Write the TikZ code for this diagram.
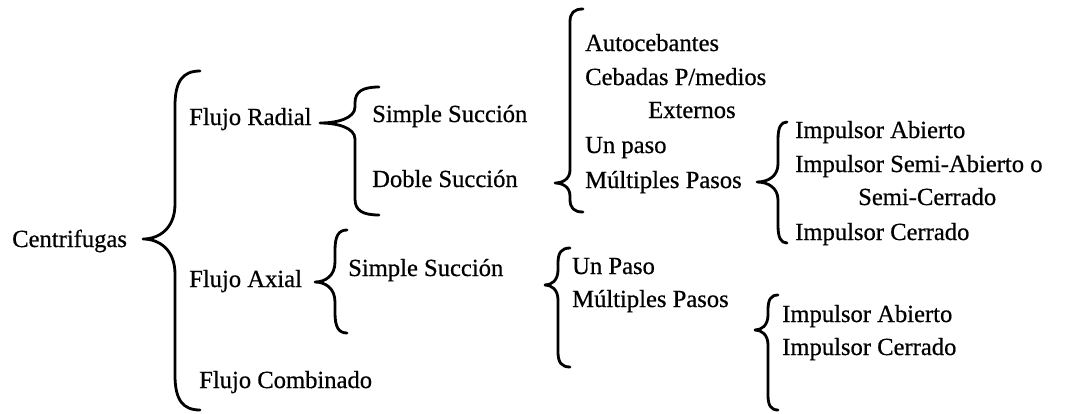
\documentclass[tikz,border=0pt]{standalone}
\usepackage{fontspec}
\setmainfont[FakeBold=0.6]{Liberation Serif}
\newcommand\cbr[7]{%
\draw[bracestroke] (#1,#4) .. controls ({#2+0.3*(#1-#2)},#4) and (#2,{#4+0.3*#7}) .. (#2,{#4+#7}) -- (#2,{#5-#7}) .. controls (#2,{#5-0.3*#7}) and ({#3+0.5*(#2-#3)},#5) .. (#3,#5) .. controls ({#3+0.5*(#2-#3)},#5) and (#2,{#5+0.3*#7}) .. (#2,{#5+#7}) -- (#2,{#6-#7}) .. controls (#2,{#6-0.3*#7}) and ({#2+0.3*(#1-#2)},#6) .. (#1,#6);}
\begin{document}
\begin{tikzpicture}[x=1pt,y=-1pt,
  lbl/.style={anchor=base west,inner sep=0pt,font=\fontsize{24.6}{28}\selectfont},
  bracestroke/.style={line width=2.8pt,line cap=round,line join=round}]
\useasboundingbox (0,0) rectangle (1069,413);
% labels
\node[lbl] (cen) at (12,247) {Centrifugas};
\node[lbl] (rad) at (189,125) {Flujo Radial};
\node[lbl] (ss1) at (372,122) {Simple Succión};
\node[lbl] (ds) at (372,187) {Doble Succión};
\node[lbl] (ax) at (189,287) {Flujo Axial};
\node[lbl] (ss2) at (348,276) {Simple Succión};
\node[lbl] (comb) at (199,388) {Flujo Combinado};
\node[lbl] (auto) at (585,51) {Autocebantes};
\node[lbl] (ceb) at (585,85) {Cebadas P/medios};
\node[lbl] (ext) at (648,118) {Externos};
\node[lbl] (up1) at (585,153) {Un paso};
\node[lbl] (mp1) at (585,188) {Múltiples Pasos};
\node[lbl] (ia1) at (795,138) {Impulsor Abierto};
\node[lbl] (isa) at (795,172) {Impulsor Semi-Abierto o};
\node[lbl] (sc) at (858,205) {Semi-Cerrado};
\node[lbl] (ic1) at (795,240) {Impulsor Cerrado};
\node[lbl] (up2) at (572,274) {Un Paso};
\node[lbl] (mp2) at (572,307) {Múltiples Pasos};
\node[lbl] (ia2) at (782,322) {Impulsor Abierto};
\node[lbl] (ic2) at (782,355) {Impulsor Cerrado};
% braces
\cbr{200}{175}{143}{71}{239}{410}{35}
\cbr{379}{355}{320}{87}{123}{215}{16}
\cbr{347}{335}{315}{230}{282}{333}{20}
\cbr{583}{570}{555}{9}{183}{212}{13}
\cbr{787}{778}{757}{122}{182}{243}{18}
\cbr{570}{558}{545}{248}{285}{367}{15}
\cbr{778}{768}{755}{295}{330}{410}{15}
\end{tikzpicture}
\end{document}
